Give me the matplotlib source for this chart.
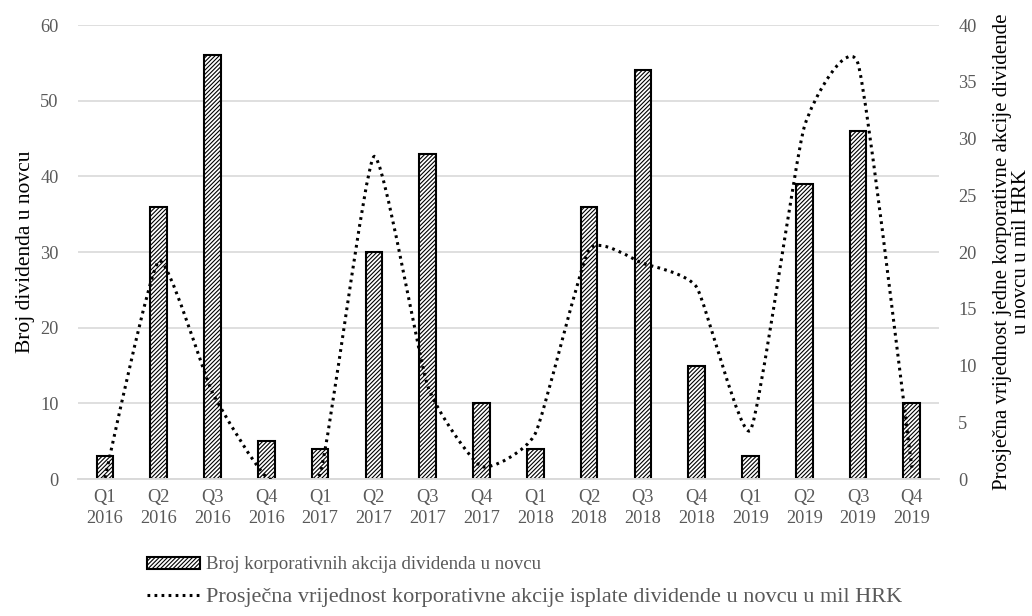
import matplotlib
matplotlib.use("Agg")
import matplotlib.pyplot as plt
import numpy as np
from matplotlib.path import Path
from matplotlib.patches import PathPatch, Patch
from matplotlib.lines import Line2D

plt.rcParams['font.family'] = ['Liberation Serif', 'DejaVu Serif']
plt.rcParams['hatch.linewidth'] = 0.8

quarters = ["Q1", "Q2", "Q3", "Q4"] * 4
years = ["2016"] * 4 + ["2017"] * 4 + ["2018"] * 4 + ["2019"] * 4
tick_labels = [f"{q}\n{y}" for q, y in zip(quarters, years)]

broj_akcija = [3, 36, 56, 5, 4, 30, 43, 10, 4, 36, 54, 15, 3, 39, 46, 10]
prosjecna_vrijednost = [0.1, 19.2, 7.6, 0.2, 0.5, 28.4, 8.2, 1.1,
                        4.0, 20.2, 19.0, 16.9, 4.3, 31.0, 36.6, 1.0]

label_bars = "Broj korporativnih akcija dividenda u novcu"
label_line = "Prosječna vrijednost korporativne akcije isplate dividende u novcu u mil HRK"

GRAY_TXT = "#595959"
GRID = "#d9d9d9"
HATCH = "////////"
DOTS = (0, (0.9, 1.4))

fig = plt.figure(figsize=(10.32, 6.16), dpi=100)
ax = fig.add_axes([0.0756, 0.2224, 0.834, 0.737])
ax2 = ax.twinx()

x = np.arange(len(broj_akcija))
ax.bar(x, broj_akcija, width=0.31, color="white", edgecolor="black",
       linewidth=1.5, hatch=HATCH, zorder=2)

ax.set_xlim(-0.5, len(x) - 0.5)
ax.set_ylim(0, 60)
ax.set_yticks(np.arange(0, 61, 10))
ax2.set_ylim(0, 40)
ax2.set_yticks(np.arange(0, 41, 5))
ax.grid(axis="y", color=GRID, linewidth=1.2, zorder=0)
ax.set_axisbelow(True)

ax.set_xticks(x)
ax.set_xticklabels(tick_labels, fontsize=13.2, color=GRAY_TXT, linespacing=1.3)
ax.tick_params(axis="both", length=0, pad=7)
ax.tick_params(axis="y", labelsize=13.2, labelcolor=GRAY_TXT, pad=14)
ax2.tick_params(axis="y", length=0, labelsize=13.2, labelcolor=GRAY_TXT, pad=14)

for a in (ax, ax2):
    for s in ("top", "left", "right"):
        a.spines[s].set_visible(False)
    a.spines["bottom"].set_color(GRID)
    a.spines["bottom"].set_linewidth(1.2)

ax.set_ylabel("Broj dividenda u novcu", fontsize=15.5, labelpad=4)
ax2.set_ylabel("Prosječna vrijednost jedne korporativne akcije dividende\nu novcu u mil HRK",
               fontsize=15, labelpad=12, linespacing=0.95)

# lightly smoothed dotted line (cubic Bezier through every data point)
pts = np.column_stack([x, prosjecna_vrijednost]).astype(float)
n = len(pts)
verts = [tuple(pts[0])]
codes = [Path.MOVETO]
k = 1.0 / 12.0
for i in range(n - 1):
    p0 = pts[i - 1] if i > 0 else pts[i]
    p1 = pts[i]
    p2 = pts[i + 1]
    p3 = pts[i + 2] if i + 2 < n else pts[i + 1]
    c1 = p1 + (p2 - p0) * k
    c2 = p2 - (p3 - p1) * k
    verts += [tuple(c1), tuple(c2), tuple(p2)]
    codes += [Path.CURVE4] * 3
line_patch = PathPatch(Path(verts, codes), facecolor="none", edgecolor="black",
                       linewidth=2.2, linestyle=DOTS, capstyle="butt", zorder=3)
ax2.add_patch(line_patch)

handles = [Patch(facecolor="white", edgecolor="black", hatch=HATCH, linewidth=1.5),
           Line2D([], [], color="black", linewidth=2.2, linestyle=DOTS)]
leg = fig.legend(handles, [label_bars, label_line], loc="lower left",
                 bbox_to_anchor=(0.133, 0.0), frameon=False, fontsize=13.6,
                 labelcolor=GRAY_TXT, handlelength=2.8, handleheight=0.6,
                 handletextpad=0.35, labelspacing=0.75, borderaxespad=0.1)
leg.get_texts()[1].set_fontsize(16)

fig.savefig("out.png", dpi=100)
